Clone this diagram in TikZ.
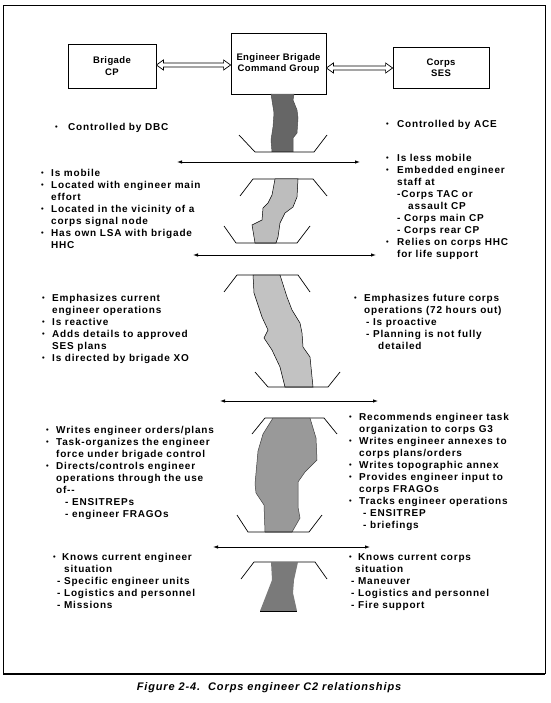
\documentclass[tikz,border=0pt]{standalone}
\usepackage{fontspec}
\setmainfont{Liberation Sans}[LetterSpace=8]
\newfontfamily\boxfont{Liberation Sans}[LetterSpace=4]
\usetikzlibrary{arrows.meta,calc}
\newlength\bw
\newcommand\B{\makebox[\bw][l]{\raisebox{0.7pt}{\fontsize{7.5}{7.5}\selectfont •}}}
\newcommand\I{\hspace*{\bw}}
\newcommand\dblarr[2]{%
  \draw[dblstyle] (#1) -- ($(#1)+(7,-5)$) -- ($(#1)+(7,-2)$) -- ($(#2)+(-7,-2)$) -- ($(#2)+(-7,-5)$) -- (#2)
   -- ($(#2)+(-7,5)$) -- ($(#2)+(-7,2)$) -- ($(#1)+(7,2)$) -- ($(#1)+(7,5)$) -- cycle;}
\definecolor{gA}{gray}{0.40}
\definecolor{gB}{gray}{0.74}
\definecolor{gC}{gray}{0.76}
\definecolor{gD}{gray}{0.60}
\definecolor{gE}{gray}{0.48}
\begin{document}
\begin{tikzpicture}[x=1pt,y=-1pt,
  box/.style={draw, line width=0.8pt, align=center, inner sep=0pt, font=\boxfont\fontsize{9.5}{11.5}\selectfont\bfseries},
  txt/.style={anchor=base west, inner sep=0pt, font=\fontsize{10}{12}\selectfont\bfseries},
  dblstyle/.style={draw, fill=white, line width=0.7pt},
  harrow/.style={line width=0.8pt, {Latex[length=5pt,width=3.5pt]}-{Latex[length=5pt,width=3.5pt]}},
  brk/.style={line width=0.7pt},
  blob/.style={draw, line width=0.5pt}]
\useasboundingbox (0,0) rectangle (550,703);
% frame
\draw[line width=0.9pt] (3,674) -- (3,5) -- (545,5) -- (545,674);
\draw[line width=1.6pt] (3,674) -- (545,674);
% boxes
\node[box, minimum width=88pt, minimum height=44pt] (bcp) at (112,66) {Brigade\\CP};
\node[box, minimum width=95pt, minimum height=61pt] (eng) at (278.5,63.5) {Engineer Brigade\\Command Group};
\node[box, minimum width=96pt, minimum height=41pt] (ses) at (441,67.5) {Corps\\SES};
\coordinate (d1a) at (bcp.east |- 0,65);
\coordinate (d1b) at (eng.west |- 0,65);
\coordinate (d2a) at (eng.east |- 0,68);
\coordinate (d2b) at (ses.west |- 0,68);
\dblarr{d1a}{d1b}
\dblarr{d2a}{d2b}
% connector shapes
\fill[gA] (271,94) -- (274,113) -- (273,127) -- (271,140) -- (272,152) -- (293,152) -- (293,138) -- (297,133) -- (298,118) -- (297,110) -- (293,100) -- (294,94) -- cycle;
\draw[blob, draw=gray!60!black] (271,94) -- (274,113) -- (273,127) -- (271,140) -- (272,152) (293,152) -- (293,138) -- (297,133) -- (298,118) -- (297,110) -- (293,100) -- (294,94);
\draw[brk] (239,135) -- (255,152) -- (314,152) -- (327,135);
\draw[brk] (240,196) -- (253,179) -- (313,179) -- (327,196);
\filldraw[blob, fill=gB] (275,179) -- (272,195) -- (268,203) -- (263,208) -- (262,220) -- (252,225) -- (255,243) -- (276,243) -- (278,237) -- (280,223) -- (285,213) -- (293,207) -- (297,197) -- (298,179) -- cycle;
\draw[brk] (224,226) -- (236,243) -- (297,243) -- (310,226);
\draw[brk] (224,292) -- (237,275) -- (298,275) -- (310,292);
\filldraw[blob, fill=gC] (253,275) -- (254,293) -- (262,317) -- (268,330) -- (264,338) -- (272,350) -- (280,367) -- (285,387) -- (313,387) -- (310,357) -- (303,347) -- (302,333) -- (300,323) -- (292,310) -- (287,297) -- (280,275) -- cycle;
\draw[brk] (255,372) -- (268,387) -- (328,387) -- (340,372);
\draw[brk] (252,434) -- (265,418) -- (324,418) -- (337,434);
\filldraw[blob, fill=gD, draw=gray!50!black] (273,418) -- (263,434) -- (258,451) -- (255,484) -- (256,493) -- (264,505) -- (265,532) -- (292,532) -- (300,518) -- (298,507) -- (298,482) -- (305,472) -- (317,460) -- (316,438) -- (310,418) -- cycle;
\draw[brk] (237,515) -- (248,532) -- (309,532) -- (322,515);
\draw[brk] (241,579) -- (254,562) -- (315,562) -- (327,579);
\fill[gE] (271,562) -- (272,580) -- (267,593) -- (260,611) -- (297,611) -- (293,593) -- (294,580) -- (298,562) -- cycle;
\draw[line width=0.9pt] (260,611) -- (297,611);
% horizontal arrows
\coordinate (h1a) at (177,162); \coordinate (h1b) at (360,162);
\coordinate (h2a) at (193,255); \coordinate (h2b) at (376,255);
\coordinate (h3a) at (220,401); \coordinate (h3b) at (378,401);
\coordinate (h4a) at (213,547); \coordinate (h4b) at (370,547);
\draw[harrow] (h1a) -- (h1b);
\draw[harrow] (h2a) -- (h2b);
\draw[harrow] (h3a) -- (h3b);
\draw[harrow] (h4a) -- (h4b);
% text blocks
\node[txt] (l1) at (55,130.5) {\setlength\bw{13pt}\begin{tabular}[t]{@{}l@{}}\B Controlled by DBC\end{tabular}};
\node[txt] (r1) at (386,127.5) {\setlength\bw{11pt}\begin{tabular}[t]{@{}l@{}}\B Controlled by ACE\end{tabular}};
\node[txt] (l2) at (41,176.5) {\setlength\bw{10pt}\begin{tabular}[t]{@{}l@{}}
\B Is mobile\\
\B Located with engineer main\\
\I effort\\
\B Located in the vicinity of a\\
\I corps signal node\\
\B Has own LSA with brigade\\
\I HHC\end{tabular}};
\node[txt] (r2) at (386,161.5) {\setlength\bw{11pt}\begin{tabular}[t]{@{}l@{}}
\B Is less mobile\\
\B Embedded engineer\\
\I staff at\\
\I -Corps TAC or\\
\I\hspace*{11pt}assault CP\\
\I - Corps main CP\\
\I - Corps rear CP\\
\B Relies on corps HHC\\
\I for life support\end{tabular}};
\node[txt] (l3) at (42,301.5) {\setlength\bw{10pt}\begin{tabular}[t]{@{}l@{}}
\B Emphasizes current\\
\I engineer operations\\
\B Is reactive\\
\B Adds details to approved\\
\I SES plans\\
\B Is directed by brigade XO\end{tabular}};
\node[txt] (r3) at (354,301.5) {\setlength\bw{10pt}\begin{tabular}[t]{@{}l@{}}
\B Emphasizes future corps\\
\I operations (72 hours out)\\
\I\hspace*{2pt}- Is proactive\\
\I\hspace*{2pt}- Planning is not fully\\
\I\hspace*{14pt}detailed\end{tabular}};
\node[txt] (l4) at (46,433.5) {\setlength\bw{10pt}\begin{tabular}[t]{@{}l@{}}
\B Writes engineer orders/plans\\
\B Task-organizes the engineer\\
\I force under brigade control\\
\B Directs/controls engineer\\
\I operations through the use\\
\I of-{}-\\
\I\hspace*{9pt}- ENSITREPs\\
\I\hspace*{9pt}- engineer FRAGOs\end{tabular}};
\node[txt] (r4) at (349,420.5) {\setlength\bw{10pt}\begin{tabular}[t]{@{}l@{}}
\B Recommends engineer task\\
\I organization to corps G3\\
\B Writes engineer annexes to\\
\I corps plans/orders\\
\B Writes topographic annex\\
\B Provides engineer input to\\
\I corps FRAGOs\\
\B Tracks engineer operations\\
\I\hspace*{4pt}- ENSITREP\\
\I\hspace*{4pt}- briefings\end{tabular}};
\node[txt] (l5) at (53,560.5) {\setlength\bw{9pt}\begin{tabular}[t]{@{}l@{}}
\B Knows current engineer\\
\I\hspace*{2pt}situation\\
\hspace*{4pt}- Specific engineer units\\
\hspace*{4pt}- Logistics and personnel\\
\hspace*{4pt}- Missions\end{tabular}};
\node[txt] (r5) at (349,560.5) {\setlength\bw{9pt}\begin{tabular}[t]{@{}l@{}}
\B Knows current corps\\
\hspace*{6pt}situation\\
\hspace*{2pt}- Maneuver\\
\hspace*{2pt}- Logistics and personnel\\
\hspace*{2pt}- Fire support\end{tabular}};
% caption
\node[inner sep=0pt, font=\fontsize{11}{13}\selectfont\bfseries\itshape] (cap) at (269,688) {Figure 2-4.\ \ Corps engineer C2 relationships};
\end{tikzpicture}
\end{document}
